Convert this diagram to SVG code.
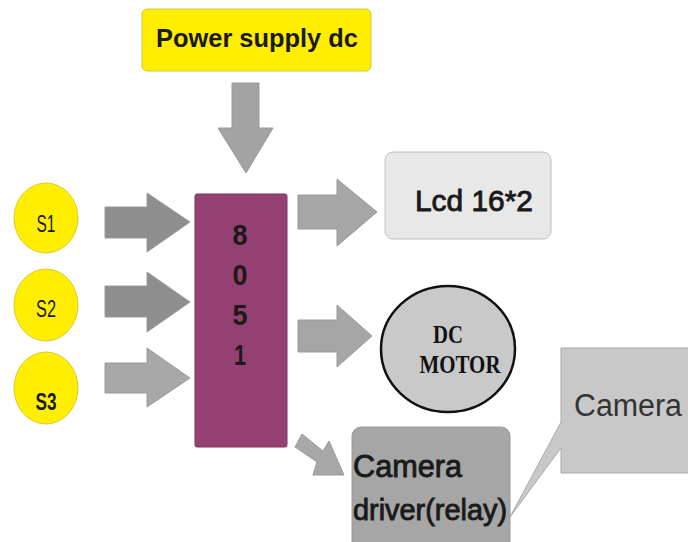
<svg xmlns="http://www.w3.org/2000/svg" width="688" height="542" viewBox="0 0 688 542">
<style>
.t{font-family:"Liberation Sans",Arial,sans-serif;fill:#1a1a1a}
.b{font-weight:bold}
.sv{font-family:"Liberation Serif","Times New Roman",serif;font-weight:bold;fill:#111}
.arr{stroke:#9a9a9a;stroke-width:1}
.sw{fill:#ffee00;stroke:#d8cc30;stroke-width:1}
</style>
<rect width="688" height="542" fill="#ffffff"/>
<g id="connectors">
<polygon class="arr" fill="#a3a3a3" points="232,83 259,83 259,128 273,128 246,173 218,128 232,128"/>
<polygon class="arr" fill="#8e8e8e" points="105,207 147,207 147,193 190,222 147,252 147,238 105,238"/>
<polygon class="arr" fill="#8e8e8e" points="105,286 147,286 147,272 190,302 147,332 147,317 105,317"/>
<polygon class="arr" fill="#a8a8a8" points="105,363 147,363 147,348 190,378 147,407 147,393 105,393"/>
<polygon class="arr" fill="#a6a6a6" points="298,195 337,195 337,179 377,212 337,246 337,229 298,229"/>
<polygon class="arr" fill="#a6a6a6" points="298,320 337,320 337,305 372,336 337,367 337,352 298,352"/>
<polygon class="arr" fill="#a8a8a8" points="302,434 323,451 329,441 344,475 313,475 317,462 295,447"/>
</g>
<g id="power">
<rect x="142" y="9" width="229" height="62" rx="5" fill="#ffee00" stroke="#cfc640" stroke-width="1"/>
<text class="t b" x="257" y="47" font-size="25" text-anchor="middle" textLength="202" lengthAdjust="spacingAndGlyphs">Power supply dc</text>
</g>
<g id="s1">
<ellipse class="sw" cx="46" cy="218" rx="32" ry="35"/>
<text class="t" x="46" y="232" font-size="23" text-anchor="middle" textLength="19" lengthAdjust="spacingAndGlyphs">S1</text>
</g>
<g id="s2">
<ellipse class="sw" cx="46" cy="305" rx="32" ry="36"/>
<text class="t" x="46" y="317" font-size="23" text-anchor="middle" textLength="20" lengthAdjust="spacingAndGlyphs">S2</text>
</g>
<g id="s3">
<ellipse class="sw" cx="46" cy="388" rx="32" ry="36"/>
<text class="t b" x="46" y="410" font-size="23" text-anchor="middle" textLength="21" lengthAdjust="spacingAndGlyphs">S3</text>
</g>
<g id="mcu">
<rect x="195" y="194" width="92" height="253" rx="2" fill="#954073" stroke="#7d3560" stroke-width="1"/>
<text class="t b" x="240" y="245" font-size="29" text-anchor="middle" textLength="15" lengthAdjust="spacingAndGlyphs">8</text>
<text class="t b" x="240" y="285" font-size="29" text-anchor="middle" textLength="15" lengthAdjust="spacingAndGlyphs">0</text>
<text class="t b" x="240" y="325" font-size="29" text-anchor="middle" textLength="15" lengthAdjust="spacingAndGlyphs">5</text>
<text class="t b" x="240" y="365" font-size="29" text-anchor="middle" textLength="12" lengthAdjust="spacingAndGlyphs">1</text>
</g>
<g id="lcd">
<rect x="385" y="152" width="166" height="87" rx="8" fill="#e8e8e8" stroke="#c0c0c0" stroke-width="1"/>
<text class="t" x="474" y="211" font-size="30" text-anchor="middle" stroke="#1a1a1a" stroke-width="0.9" textLength="118" lengthAdjust="spacingAndGlyphs">Lcd 16*2</text>
</g>
<g id="motor">
<ellipse cx="448" cy="349" rx="67" ry="63" fill="#c9c9c9" stroke="#111" stroke-width="2.5"/>
<text class="sv" x="448" y="343" font-size="25" text-anchor="middle" textLength="30" lengthAdjust="spacingAndGlyphs">DC</text>
<text class="sv" x="460" y="373" font-size="26" text-anchor="middle" textLength="81" lengthAdjust="spacingAndGlyphs">MOTOR</text>
</g>
<g id="driver">
<rect x="352" y="427" width="158" height="125" rx="9" fill="#a6a6a6" stroke="#999" stroke-width="1"/>
<text class="t" x="353" y="477" font-size="31" stroke="#1a1a1a" stroke-width="0.9" textLength="109" lengthAdjust="spacingAndGlyphs">Camera</text>
<text class="t" x="353" y="520" font-size="30" stroke="#1a1a1a" stroke-width="0.9" textLength="154" lengthAdjust="spacingAndGlyphs">driver(relay)</text>
</g>
<g id="camera">
<path d="M561,348 H690 V473 H561 V448 L510,517 L561,422 Z" fill="#c8c8c8" stroke="#aaaaaa" stroke-width="1"/>
<text class="t" x="574" y="416" font-size="31" style="fill:#333" textLength="108" lengthAdjust="spacingAndGlyphs">Camera</text>
</g>
</svg>
